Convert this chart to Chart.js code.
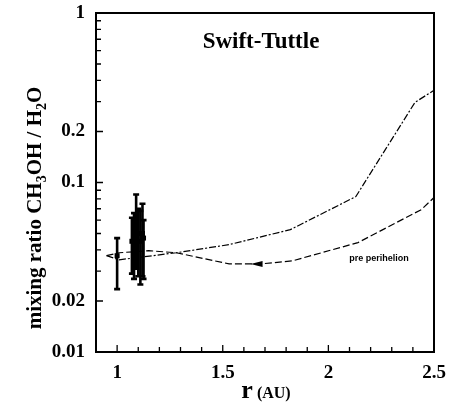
<!DOCTYPE html>
<html><head><meta charset="utf-8">
<script src="https://cdn.jsdelivr.net/npm/chart.js@4.4.0/dist/chart.umd.min.js"></script>
<style>html,body{margin:0;padding:0;background:#fff}</style>
</head><body>
<canvas id="c" width="452" height="406"></canvas>
<script>
// ---- data ----
const chartTitle = "Swift-Tuttle";
const xTickValues = [0.9,1.0,1.1,1.2,1.3,1.4,1.5,1.6,1.7,1.8,1.9,2.0,2.1,2.2,2.3,2.4,2.5];
const xLabelValues = [1, 1.5, 2, 2.5];
const xLabelTexts = ["1", "1.5", "2", "2.5"];
const yTickValues = [0.01,0.02,0.03,0.04,0.05,0.06,0.07,0.08,0.09,0.1,0.2,0.3,0.4,0.5,0.6,0.7,0.8,0.9,1];
const yLabelValues = [0.01, 0.02, 0.1, 0.2, 1];
const yLabelTexts = ["0.01", "0.02", "0.1", "0.2", "1"];

const postX = [0.95, 1.01, 1.28, 1.53, 1.82, 2.13, 2.41, 2.5];
const postY = [0.037, 0.035, 0.0385, 0.043, 0.0527, 0.0826, 0.297, 0.35];
const preX = [0.95, 1.01, 1.15, 1.28, 1.53, 1.68, 1.83, 2.14, 2.44, 2.5];
const preY = [0.037, 0.0385, 0.0396, 0.0385, 0.0331, 0.0331, 0.0345, 0.0442, 0.0692, 0.0815];

const obsX = [1.0, 1.07, 1.08, 1.09, 1.10, 1.11, 1.12, 1.125];
const obsY = [0.037, 0.045, 0.05, 0.055, 0.05, 0.045, 0.05, 0.047];
const obsLow = [0.0235, 0.029, 0.027, 0.031, 0.028, 0.025, 0.028, 0.027];
const obsHigh = [0.047, 0.062, 0.066, 0.085, 0.07, 0.068, 0.075, 0.06];

const arrowX = 1.66, arrowY = 0.0331;
const noteText = "pre perihelion", noteX = 2.24, noteY = 0.0355;

const SERIF = '"Liberation Serif", "Times New Roman", serif';

function near(a, b) { return Math.abs(a - b) < 1e-6; }
function labelFor(v, vals, texts) {
  for (let i = 0; i < vals.length; i++) if (near(v, vals[i])) return texts[i];
  return '';
}

const deco = {
  id: 'deco',
  afterDraw(chart) {
    const ctx = chart.ctx, a = chart.chartArea;
    const xs = chart.scales.x, ys = chart.scales.y;
    ctx.save();
    // frame
    ctx.strokeStyle = '#000';
    ctx.lineWidth = 2;
    ctx.strokeRect(a.left, a.top, a.right - a.left, a.bottom - a.top);
    // inward ticks
    ctx.lineWidth = 1.3;
    ctx.beginPath();
    xTickValues.forEach(v => {
      const px = xs.getPixelForValue(v);
      const L = labelFor(v, xLabelValues, xLabelTexts) ? 7 : 5;
      ctx.moveTo(px, a.bottom); ctx.lineTo(px, a.bottom - L);
    });
    yTickValues.forEach(v => {
      const py = ys.getPixelForValue(v);
      const L = labelFor(v, yLabelValues, yLabelTexts) ? 7 : 5;
      ctx.moveTo(a.left, py); ctx.lineTo(a.left + L, py);
    });
    ctx.stroke();
    // error bars
    ctx.lineWidth = 2.6;
    obsX.forEach((x, i) => {
      const px = xs.getPixelForValue(x);
      const pl = ys.getPixelForValue(obsLow[i]);
      const ph = ys.getPixelForValue(obsHigh[i]);
      const pc = ys.getPixelForValue(obsY[i]);
      ctx.beginPath();
      ctx.moveTo(px, pl); ctx.lineTo(px, ph);
      ctx.moveTo(px - 3, pl); ctx.lineTo(px + 3, pl);
      ctx.moveTo(px - 3, ph); ctx.lineTo(px + 3, ph);
      ctx.stroke();
      ctx.fillStyle = '#000';
      ctx.fillRect(px - 2.5, pc - 2.5, 5, 5);
    });
    // arrow
    const ax = xs.getPixelForValue(arrowX), ay = ys.getPixelForValue(arrowY);
    ctx.fillStyle = '#000';
    ctx.beginPath();
    ctx.moveTo(ax - 6, ay); ctx.lineTo(ax + 6, ay - 3); ctx.lineTo(ax + 6, ay + 3); ctx.closePath();
    ctx.fill();
    // note
    ctx.font = 'bold 9px "Liberation Sans", Arial, sans-serif';
    ctx.textAlign = 'center'; ctx.textBaseline = 'middle';
    ctx.fillText(noteText, xs.getPixelForValue(noteX), ys.getPixelForValue(noteY));
    // chart title
    ctx.font = 'bold 23px ' + SERIF;
    ctx.textAlign = 'center'; ctx.textBaseline = 'alphabetic';
    ctx.fillText(chartTitle, 261, 48);
    // x title
    ctx.font = 'bold 26px ' + SERIF;
    const rW = ctx.measureText('r').width;
    ctx.font = 'bold 16px ' + SERIF;
    const auW = ctx.measureText(' (AU)').width;
    let sx = 266 - (rW + auW) / 2;
    ctx.textAlign = 'left';
    ctx.font = 'bold 26px ' + SERIF;
    ctx.fillText('r', sx, 398);
    ctx.font = 'bold 16px ' + SERIF;
    ctx.fillText(' (AU)', sx + rW, 398);
    // y title with subscripts
    const segs = [['mixing ratio CH', 0], ['3', 1], ['OH / H', 0], ['2', 1], ['O', 0]];
    const big = 'bold 21px ' + SERIF, small = 'bold 14px ' + SERIF;
    let total = 0;
    segs.forEach(s => { ctx.font = s[1] ? small : big; total += ctx.measureText(s[0]).width; });
    ctx.translate(41, 208);
    ctx.rotate(-Math.PI / 2);
    let cx = -total / 2;
    segs.forEach(s => {
      ctx.font = s[1] ? small : big;
      ctx.fillText(s[0], cx, s[1] ? 5 : 0);
      cx += ctx.measureText(s[0]).width;
    });
    ctx.restore();
  }
};

new Chart(document.getElementById('c'), {
  type: 'line',
  data: {
    datasets: [
      { label: 'post', data: postX.map((x, i) => ({x, y: postY[i]})),
        borderColor: '#000', borderWidth: 1.2, borderDash: [7, 2, 2, 2], pointRadius: 0, tension: 0, fill: false },
      { label: 'pre', data: preX.map((x, i) => ({x, y: preY[i]})),
        borderColor: '#000', borderWidth: 1.2, borderDash: [7, 3], pointRadius: 0, tension: 0, fill: false }
    ]
  },
  options: {
    responsive: false,
    animation: false,
    layout: { padding: { left: 0, right: 18, top: 13, bottom: 0 } },
    plugins: { legend: { display: false }, tooltip: { enabled: false }, title: { display: false } },
    scales: {
      x: {
        type: 'linear', min: 0.9, max: 2.5,
        afterBuildTicks: s => { s.ticks = xTickValues.map(v => ({ value: v })); },
        afterFit: s => { s.height = 54; s.paddingLeft = 0; s.paddingRight = 0; },
        grid: { display: false, drawTicks: false },
        border: { display: false },
        ticks: { autoSkip: false, maxRotation: 0, padding: 10, color: '#000',
          font: { family: SERIF, size: 19, weight: 'bold' },
          callback: v => labelFor(v, xLabelValues, xLabelTexts) }
      },
      y: {
        type: 'logarithmic', min: 0.01, max: 1,
        afterBuildTicks: s => { s.ticks = yTickValues.map(v => ({ value: v })); },
        afterFit: s => { s.width = 96; s.paddingTop = 0; s.paddingBottom = 0; },
        grid: { display: false, drawTicks: false },
        border: { display: false },
        ticks: { autoSkip: false, padding: 11, color: '#000',
          font: { family: SERIF, size: 19, weight: 'bold' },
          callback: v => labelFor(v, yLabelValues, yLabelTexts) }
      }
    }
  },
  plugins: [deco]
});
</script>
</body></html>
